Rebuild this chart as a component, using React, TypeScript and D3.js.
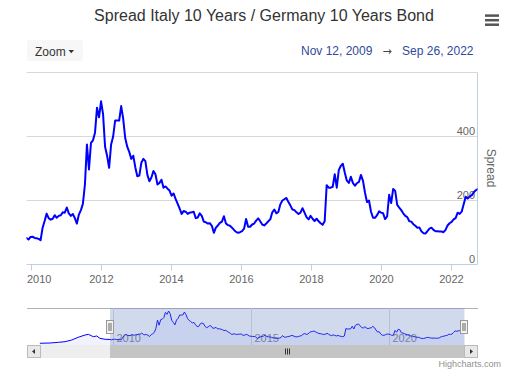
import React from "react";
import * as d3 from "d3";

const TITLE = "Spread Italy 10 Years / Germany 10 Years Bond";
const RANGE_FROM = "2009-11-12";
const RANGE_TO = "2022-09-26";
const FROM_LABEL = "Nov 12, 2009";
const TO_LABEL = "Sep 26, 2022";
const STEP_DAYS = 21;

// Spread (bp), one reading every 3 weeks from RANGE_FROM
const spread = [
  83, 78, 86, 87, 83, 82, 80, 76, 115, 136,
  159, 145, 140, 143, 154, 146, 152, 154, 163, 162,
  178, 160, 152, 158, 145, 128, 156, 170, 190, 250,
  375, 297, 380, 388, 412, 490, 460, 510, 470, 368,
  340, 302, 375, 400, 450, 450, 450, 495, 455, 395,
  368, 352, 330, 340, 304, 276, 278, 318, 330, 323,
  280, 260, 272, 292, 282, 250, 255, 265, 240, 244,
  237, 231, 215, 222, 205, 190, 175, 158, 167, 165,
  158, 162, 163, 165, 145, 147, 160, 152, 134, 132,
  128, 129, 121, 99, 115, 122, 130, 134, 151, 128,
  123, 121, 115, 108, 102, 99, 101, 104, 112, 142,
  118, 118, 125, 128, 137, 144, 135, 125, 122, 128,
  135, 141, 163, 172, 160, 164, 188, 200, 204, 208,
  195, 184, 172, 170, 163, 158, 162, 176, 162, 148,
  141, 152, 143, 136, 143, 135, 129, 124, 135, 248,
  240, 240, 243, 282, 240, 295, 308, 315, 287, 262,
  255, 274, 255, 246, 254, 258, 280, 262, 225, 195,
  200, 165, 146, 146, 154, 166, 162, 160, 142, 150,
  218, 192, 236, 230, 186, 178, 170, 160, 152, 148,
  135, 134, 126, 121, 115, 116, 104, 98, 97, 104,
  112, 115, 108, 104, 104, 103, 103, 101, 108, 122,
  129, 133, 141, 145, 162, 158, 165, 188, 212, 206,
  213, 216, 226, 232, 236,
];

// Earlier history shown only in the navigator
const earlyDates = [
  "2007-04-27", "2007-09-08", "2007-12-28", "2008-03-26", "2008-06-22",
  "2008-09-17", "2008-12-16", "2009-01-30", "2009-03-07", "2009-04-05",
  "2009-05-20", "2009-07-01", "2009-09-06",
];
const earlySpread = [26, 30, 40, 50, 75, 116, 150, 160, 140, 125, 135, 100, 86];

const xTickYears = [2010, 2012, 2014, 2016, 2018, 2020, 2022];
const yGridValues = [0, 200, 400, 600];
const yLabelValues = [0, 200, 400];
const navTickYears = [2010, 2015, 2020];
const NAV_FROM = "2006-11-07";
const NAV_TO = "2023-03-25";
const Y_TITLE = "Spread";

const FONT = "'Liberation Sans', Arial, Helvetica, sans-serif";
const W = 512;
const H = 375;
const PL = 26.5, PR = 477.5, PT = 72.5, PB = 264.5;
const NL = 27, NR = 478, NT = 308, NB = 345;
const SB_T = 345, SB_H = 13;

export default function App() {
  const parse = d3.utcParse("%Y-%m-%d");
  const start = parse(RANGE_FROM)!;
  const end = parse(RANGE_TO)!;
  const mainData: [Date, number][] = spread.map((v, i) => [d3.utcDay.offset(start, i * STEP_DAYS), v]);
  const earlyData: [Date, number][] = earlyDates.map((d, i) => [parse(d)!, earlySpread[i]]);
  const navData = earlyData.concat(mainData);

  const x = d3.scaleUtc().domain([start, end]).range([PL, PR]);
  const y = d3.scaleLinear().domain([0, 600]).range([PB, PT]);
  const nx = d3.scaleUtc().domain([parse(NAV_FROM)!, parse(NAV_TO)!]).range([NL, NR]);
  const ny = d3.scaleLinear().domain([0, 555]).range([NB, NT]);

  const line = d3.line<[Date, number]>().x(d => x(d[0])).y(d => y(d[1])).curve(d3.curveLinear);
  const navLine = d3.line<[Date, number]>().x(d => nx(d[0])).y(d => ny(d[1]));
  const navArea = d3.area<[Date, number]>().x(d => nx(d[0])).y0(NB).y1(d => ny(d[1]));

  const maskL = nx(start);
  const maskR = nx(end);
  const crisp = (v: number) => Math.round(v - 0.5) + 0.5;

  const handle = (cx: number, key: string) => (
    <g key={key}>
      <rect x={Math.round(cx) - 3.5} y={320.5} width={7} height={13} fill="#f2f2f2" stroke="#999" strokeWidth={1} />
      <line x1={Math.round(cx) - 1} x2={Math.round(cx) - 1} y1={323} y2={331} stroke="#666" strokeWidth={1} />
      <line x1={Math.round(cx) + 1} x2={Math.round(cx) + 1} y1={323} y2={331} stroke="#666" strokeWidth={1} />
    </g>
  );

  const gripX = (maskL + maskR) / 2;

  return (
    <svg width={W} height={H} style={{ position: "absolute", left: 0, top: 0, fontFamily: FONT }}>
      <defs>
        <clipPath id="plotClip">
          <rect x={PL} y={PT - 10} width={PR - PL} height={PB - PT + 10} />
        </clipPath>
        <clipPath id="navClip">
          <rect x={NL} y={NT} width={NR - NL} height={NB - NT} />
        </clipPath>
      </defs>
      <rect x={0} y={0} width={W} height={H} fill="#ffffff" />

      {/* Title */}
      <text x={264} y={20.5} textAnchor="middle" fontSize={16} fill="#333">{TITLE}</text>

      {/* Menu icon */}
      {[15.6, 20.2, 24.7].map((yy, i) => (
        <line key={i} x1={485} x2={499} y1={yy} y2={yy} stroke="#555" strokeWidth={2.5} />
      ))}

      {/* Zoom button */}
      <rect x={27} y={40} width={56} height={21} rx={2} fill="#f7f7f7" />
      <text x={35} y={55.5} fontSize={12} fill="#333">Zoom</text>
      <path d="M68.5,50 L74,50 L71.25,53.3 Z" fill="#333" />

      {/* Date range */}
      <text x={301} y={55} fontSize={12} fill="#2f4a9c">{FROM_LABEL}</text>
      <text x={387} y={54.5} fontSize={11} fill="#444" textAnchor="middle" fontFamily="'DejaVu Sans', sans-serif">→</text>
      <text x={473.5} y={55} fontSize={12} fill="#2f4a9c" textAnchor="end">{TO_LABEL}</text>

      {/* Grid */}
      {yGridValues.filter(v => v > 0).map(v => (
        <line key={v} x1={PL} x2={PR} y1={crisp(y(v))} y2={crisp(y(v))} stroke="#d8d8d8" strokeWidth={1} />
      ))}

      {/* Y labels */}
      {yLabelValues.map(v => (
        <text key={v} x={475} y={y(v) - 2} textAnchor="end" fontSize={11} fill="#666">{v}</text>
      ))}

      {/* Y title */}
      <text transform={`translate(491,168) rotate(90)`} textAnchor="middle" dy="0.35em" fontSize={12} fill="#666">{Y_TITLE}</text>

      {/* Axis lines */}
      <line x1={PL} x2={PR} y1={PB} y2={PB} stroke="#C0D0E0" strokeWidth={1} />
      <line x1={PR} x2={PR} y1={PT} y2={PB} stroke="#C0D0E0" strokeWidth={1} />

      {/* X ticks */}
      {xTickYears.map(yr => {
        const d = new Date(Date.UTC(yr, 0, 1));
        const xx = crisp(x(d));
        const left = xx - 12 < PL;
        return (
          <g key={yr}>
            <line x1={xx} x2={xx} y1={PB} y2={PB + 6} stroke="#C0D0E0" strokeWidth={1} />
            <text x={left ? PL + 0.5 : xx} y={283.3} textAnchor={left ? "start" : "middle"} fontSize={11} fill="#666">{yr}</text>
          </g>
        );
      })}

      {/* Main series */}
      <path d={line(mainData) || ""} fill="none" stroke="#0000ff" strokeWidth={2} strokeLinejoin="round" strokeLinecap="round" clipPath="url(#plotClip)" />

      {/* Navigator */}
      <line x1={NL} x2={NR} y1={NT + 0.5} y2={NT + 0.5} stroke="#b2b1b6" strokeWidth={1} />
      {navTickYears.map(yr => {
        const xx = crisp(nx(new Date(Date.UTC(yr, 0, 1))));
        return (
          <g key={yr}>
            <line x1={xx} x2={xx} y1={NT} y2={NB} stroke="#dcdcdc" strokeWidth={1} />
            <text x={xx + 3} y={341.5} fontSize={11} fill="#888">{yr}</text>
          </g>
        );
      })}
      <g clipPath="url(#navClip)">
        <path d={navArea(navData) || ""} fill="#0000ff" fillOpacity={0.05} />
        <path d={navLine(navData) || ""} fill="none" stroke="#0000ff" strokeWidth={1} />
      </g>
      <rect x={maskL} y={NT} width={maskR - maskL} height={NB - NT} fill="rgba(102,133,194,0.3)" />

      {/* Scrollbar */}
      <rect x={NL} y={SB_T} width={NR - NL} height={SB_H} fill="#eeeeee" />
      <rect x={maskL} y={SB_T} width={maskR - maskL} height={SB_H} fill="#c4c4c4" />
      <rect x={NL + 0.5} y={SB_T + 0.5} width={13} height={SB_H - 1} fill="#e8e8e8" stroke="#bbb" strokeWidth={1} />
      <path d={`M${NL + 5},${SB_T + 6.5} L${NL + 8},${SB_T + 4} L${NL + 8},${SB_T + 9} Z`} fill="#333" />
      <rect x={NR - 13.5} y={SB_T + 0.5} width={13} height={SB_H - 1} fill="#e8e8e8" stroke="#bbb" strokeWidth={1} />
      <path d={`M${NR - 5},${SB_T + 6.5} L${NR - 8},${SB_T + 4} L${NR - 8},${SB_T + 9} Z`} fill="#333" />
      {[-2, 0, 2].map(o => (
        <line key={o} x1={Math.round(gripX) + o + 0.5} x2={Math.round(gripX) + o + 0.5} y1={SB_T + 3.5} y2={SB_T + 9.5} stroke="#333" strokeWidth={1} />
      ))}

      {handle(maskL, "hl")}
      {handle(maskR, "hr")}

      {/* Credits */}
      <text x={501} y={367} textAnchor="end" fontSize={9} fill="#909090">Highcharts.com</text>
    </svg>
  );
}
